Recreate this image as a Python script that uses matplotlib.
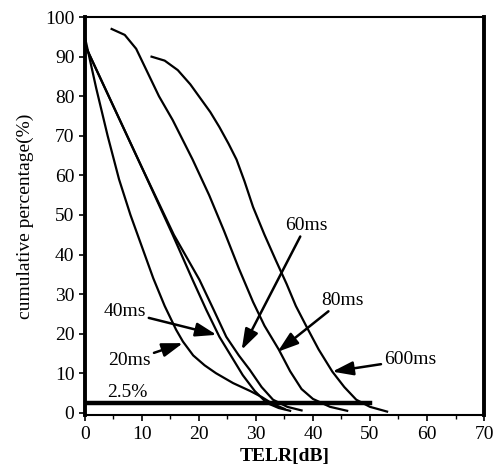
import matplotlib
matplotlib.use('Agg')
import matplotlib.pyplot as plt

plt.rcParams['font.family'] = ['Liberation Serif', 'DejaVu Serif']

# curves: TELR [dB] vs cumulative percentage [%]
t20_x = [0, 2, 4, 6, 8, 10, 12, 14, 16, 17.2, 19, 21, 23, 26, 29, 31, 33, 35]
t20_y = [95, 82, 70, 59, 50, 42, 34, 27, 21, 18, 14.5, 12, 10, 7.5, 5.5, 4, 2.2, 1]

t40_x = [0, 5, 10, 15.4, 18.9, 21.3, 23.6, 25.8, 27.7, 29.8, 31.9, 34, 36]
t40_y = [93, 77.5, 62, 45, 33.6, 26, 19.2, 14, 9.5, 5.5, 2.5, 1.2, 0.5]

t60_x = [0, 5, 10, 15.6, 20.1, 22.6, 24.8, 27, 28.9, 31, 33, 35.5, 38]
t60_y = [93, 77.5, 62, 45, 33.6, 26, 19.2, 14.5, 10.9, 6.5, 3.3, 1.5, 0.6]

t80_x = [4.7, 7, 9, 11, 13, 15.4, 18.9, 21.8, 24.4, 27, 29.5, 31.5, 34, 36, 38, 40, 43, 46]
t80_y = [97, 95.5, 92, 86, 80, 74, 64, 55, 46, 36.5, 28, 22, 16, 10.5, 6, 3.5, 1.5, 0.5]

t600_x = [11.7, 14, 16.3, 18.5, 20.1, 22, 23.6, 25.2, 26.6, 28, 29.5, 31.5, 33.5, 35.4, 37,
          38.9, 41, 43.4, 45.5, 47.6, 50, 53]
t600_y = [90, 89, 86.6, 83, 79.8, 76, 72.2, 68, 64, 58.5, 52, 45, 38.5, 32.5, 27,
          21.7, 16, 10.4, 6.5, 3.3, 1.5, 0.3]

level_x = [0, 50]
level_y = [2.5, 2.5]

fig = plt.figure(figsize=(4.99, 4.75), dpi=100)
ax = fig.add_axes([0.170, 0.126, 0.800, 0.838])

for xs, ys in [(t20_x, t20_y), (t40_x, t40_y), (t60_x, t60_y), (t80_x, t80_y), (t600_x, t600_y)]:
    ax.plot(xs, ys, color='black', lw=1.6, solid_joinstyle='round')

ax.plot(level_x, level_y, color='black', lw=3.2)

ax.set_xlim(0, 70)
ax.set_ylim(-0.6, 100)
ax.set_xticks(range(0, 71, 10))
ax.set_xticks(range(5, 70, 10), minor=True)
ax.set_yticks(range(0, 101, 10))
ax.tick_params(axis='both', labelsize=14, direction='out', length=4, width=1.2, colors='black')
ax.tick_params(axis='x', which='minor', direction='out', length=3, width=1.0)

for side, w in [('left', 2.8), ('right', 2.8), ('top', 1.5), ('bottom', 1.5)]:
    ax.spines[side].set_linewidth(w)
    ax.spines[side].set_color('black')

ax.set_ylabel('cumulative percentage(%)', fontsize=14, labelpad=8)
ax.set_xlabel('TELR[dB]', fontsize=14, fontweight='bold', labelpad=4)

arrow = dict(arrowstyle='-|>,head_length=0.9,head_width=0.3', color='black', lw=1.8, shrinkA=0, shrinkB=0)

ax.annotate('60ms', xy=(27.5, 15.9), xytext=(38.8, 47.4), fontsize=14,
            ha='center', va='center', arrowprops=arrow)
ax.annotate('80ms', xy=(33.8, 15.4), xytext=(45.2, 28.5), fontsize=14,
            ha='center', va='center', arrowprops=arrow)
ax.annotate('600ms', xy=(43.4, 10.4), xytext=(57.0, 13.4), fontsize=14,
            ha='center', va='center', arrowprops=arrow)
ax.annotate('40ms', xy=(23.1, 19.7), xytext=(7.0, 25.5), fontsize=14,
            ha='center', va='center', arrowprops=arrow)
ax.annotate('20ms', xy=(17.2, 17.6), xytext=(7.9, 13.1), fontsize=14,
            ha='center', va='center', arrowprops=arrow)
ax.text(7.5, 5.2, '2.5%', fontsize=14, ha='center', va='center')

fig.savefig('out.png', dpi=100)
